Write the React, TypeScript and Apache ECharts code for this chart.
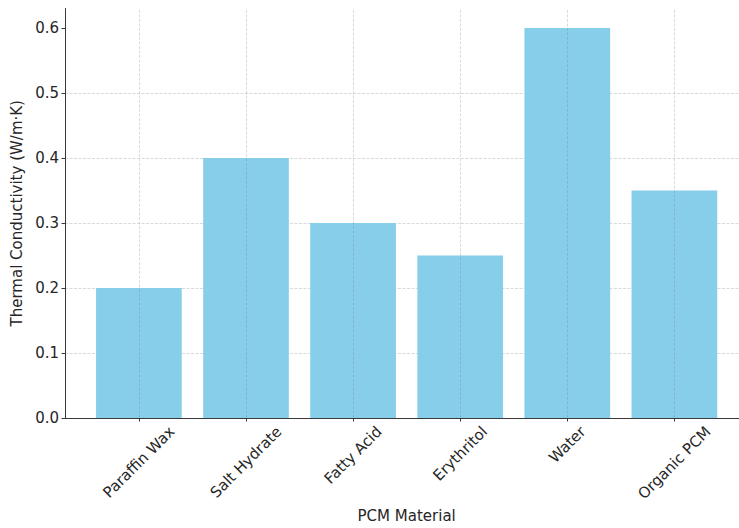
import React, { useEffect, useRef } from 'react';
import * as echarts from 'echarts';

// Thermal conductivity of common phase-change materials
const categories = ['Paraffin Wax', 'Salt Hydrate', 'Fatty Acid', 'Erythritol', 'Water', 'Organic PCM'];
const conductivity = [0.2, 0.4, 0.3, 0.25, 0.6, 0.35];
const yTicks = [0, 0.1, 0.2, 0.3, 0.4, 0.5, 0.6];

const FONT = 'DejaVu Sans';
const FONT_SIZE = 15;
const TEXT = '#262626';
const AXIS = '#3a3a3a';
const GRID = 'rgba(120,120,120,0.35)';
const BAR = '#87CEEB';

const LABEL_MARGIN = 12;

function textWidth(text: string): number {
  const ctx = document.createElement('canvas').getContext('2d');
  if (!ctx) return text.length * FONT_SIZE * 0.6;
  ctx.font = `${FONT_SIZE}px "${FONT}"`;
  return ctx.measureText(text).width;
}

// Rotated tick labels are centred under their tick with a common top edge;
// each label gets spacer tokens that push its text along and across the
// rotated baseline so its centre drops by the right amount.
function buildLabelRich() {
  const rich: Record<string, any> = {
    t: { fontFamily: FONT, fontSize: FONT_SIZE, color: TEXT },
  };
  categories.forEach((name, i) => {
    const w = textWidth(name);
    const drop = Math.max(0, 11 + 0.354 * w - LABEL_MARGIN);
    const s = drop * Math.SQRT2;
    rich[`v${i}`] = { height: s, lineHeight: s, width: 0, fontSize: 1 };
    rich[`h${i}`] = { width: s, fontSize: FONT_SIZE, fontFamily: FONT };
  });
  return rich;
}

export default function App() {
  const ref = useRef<HTMLDivElement>(null);

  useEffect(() => {
    if (!ref.current) return;
    const chart = echarts.init(ref.current, null, { renderer: 'svg' });
    const idx = categories.map((_, i) => i);

    chart.setOption({
      animation: false,
      backgroundColor: '#ffffff',
      textStyle: { fontFamily: FONT },
      grid: {
        left: 65,
        top: 8.5,
        width: 683.3,
        height: 409.5,
        containLabel: false,
        outerBoundsMode: 'none',
      },
      xAxis: {
        type: 'value',
        min: -0.69,
        max: 5.69,
        name: 'PCM Material',
        nameLocation: 'middle',
        nameGap: 90,
        nameTextStyle: { fontFamily: FONT, fontSize: FONT_SIZE, color: TEXT },
        axisLine: { show: true, onZero: false, lineStyle: { color: AXIS, width: 1 } },
        axisTick: {
          show: true,
          customValues: idx,
          length: 3.5,
          lineStyle: { color: AXIS, width: 1 },
        },
        axisLabel: {
          show: true,
          customValues: idx,
          rotate: 45,
          align: 'center',
          verticalAlign: 'middle',
          margin: LABEL_MARGIN,
          color: TEXT,
          fontFamily: FONT,
          fontSize: FONT_SIZE,
          formatter: (value: number) => {
            const i = Math.round(value);
            return `{v${i}|}\n{t|${categories[i]}}{h${i}|}`;
          },
          rich: buildLabelRich(),
        },
        splitLine: { show: false },
      },
      yAxis: {
        type: 'value',
        min: 0,
        max: 0.63,
        interval: 0.1,
        name: 'Thermal Conductivity (W/m·K)',
        nameLocation: 'middle',
        nameGap: 36,
        nameTextStyle: { fontFamily: FONT, fontSize: FONT_SIZE, color: TEXT },
        axisLine: { show: true, onZero: false, lineStyle: { color: AXIS, width: 1 } },
        axisTick: {
          show: true,
          customValues: yTicks,
          length: 3.5,
          lineStyle: { color: AXIS, width: 1 },
        },
        axisLabel: {
          show: true,
          customValues: yTicks,
          margin: 6,
          color: TEXT,
          fontFamily: FONT,
          fontSize: FONT_SIZE,
          formatter: (v: number) => v.toFixed(1),
        },
        splitLine: {
          show: true,
          showMinLine: false,
          showMaxLine: false,
          lineStyle: { color: GRID, width: 0.8, type: [3, 1.5] },
        },
      },
      series: [
        {
          type: 'bar',
          data: conductivity.map((v, i) => [i, v]),
          barWidth: 85.7,
          itemStyle: { color: BAR },
          emphasis: { disabled: true },
          silent: true,
          markLine: {
            silent: true,
            symbol: ['none', 'none'],
            label: { show: false },
            emphasis: { disabled: true },
            lineStyle: { color: GRID, width: 0.8, type: [3, 1.5] },
            data: idx.map((i) => ({ xAxis: i })),
          },
        },
      ],
    });

    return () => chart.dispose();
  }, []);

  return (
    <div
      ref={ref}
      style={{ position: 'fixed', left: 0, top: 0, width: 739, height: 528 }}
    />
  );
}
